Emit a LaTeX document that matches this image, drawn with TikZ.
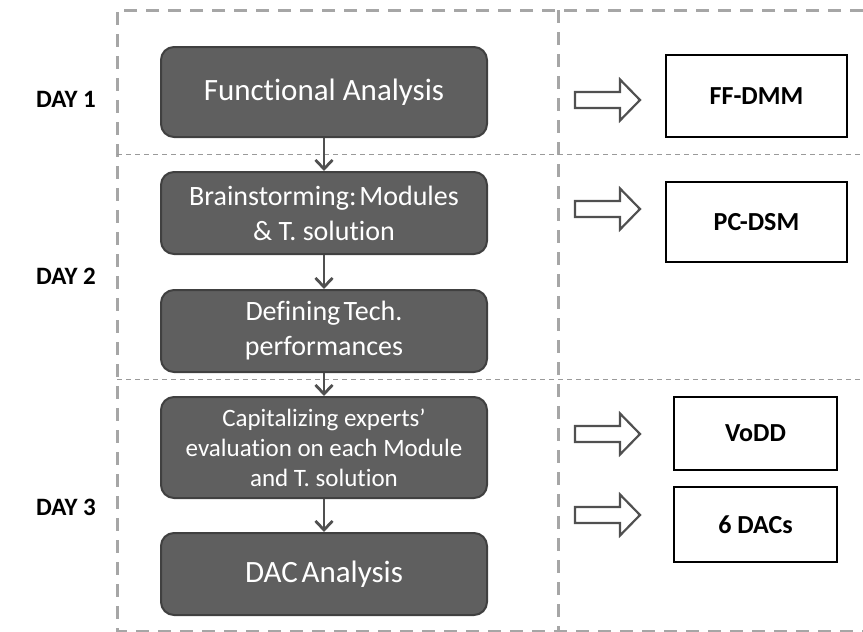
\documentclass[tikz,border=0pt]{standalone}
\usepackage{fontspec}
\setmainfont{Carlito}[RawFeature={-liga;-clig;-calt;-dlig}]
\usetikzlibrary{arrows.meta}
\definecolor{boxfill}{HTML}{5F5F5F}
\definecolor{boxedge}{HTML}{404040}
\definecolor{dashgray}{HTML}{A6A6A6}
\definecolor{thingray}{HTML}{9A9A9A}
\definecolor{arrowgray}{HTML}{505050}
\tikzset{
  x=1pt, y=-1pt,
  stepbox/.style={draw=boxedge, line width=2pt, fill=boxfill, rounded corners=13pt,
    text=white, align=center, minimum width=326pt, inner sep=2pt},
  outbox/.style={draw=black, line width=2.6pt, fill=white, align=center,
    font=\bfseries\fontsize{26}{30}\selectfont},
  daylabel/.style={font=\bfseries\fontsize{25}{30}\selectfont, text=black},
  flowarrow/.style={draw=arrowgray, line width=2.8pt,
    -{Straight Barb[length=9pt,width=17pt,line width=2.8pt]}},
  hollowline/.style={draw=arrowgray, line width=2.2pt, fill=white, line join=miter},
  bigdash/.style={draw=dashgray, line width=3pt, dash pattern=on 13pt off 9pt},
  smalldash/.style={draw=thingray, line width=1pt, dash pattern=on 5pt off 4pt},
  pics/hollowarrow/.style={code={
    \draw[hollowline] (0,-8) -- (45,-8) -- (45,-20.5) -- (65,0) -- (45,20.5)
      -- (45,8) -- (0,8) -- cycle;}},
}
\begin{document}
\begin{tikzpicture}
\useasboundingbox (0,0) rectangle (863,632);
\fill[white] (0,0) rectangle (863,632);

% frame
\draw[bigdash] (863,10) -- (117,10) -- (117,631) -- (863,631);
\draw[bigdash] (558,10) -- (558,631);
\draw[smalldash] (117,154) -- (863,154);
\draw[smalldash] (117,379) -- (863,379);

% day labels
\node[daylabel] (d1) at (66,99) {DAY 1};
\node[daylabel] (d2) at (66,276) {DAY 2};
\node[daylabel] (d3) at (66,507) {DAY 3};

% process steps
\node[stepbox, minimum height=90pt, font=\fontsize{31}{37}\selectfont] (b1) at (324,92) {Functional Analysis};
\node[stepbox, minimum height=82pt, font=\fontsize{28}{35}\selectfont] (b2) at (324,213) {Brainstorming:\hspace{0.1em}Modules\\\& T. solution};
\node[stepbox, minimum height=82pt, font=\fontsize{28}{35}\selectfont] (b3) at (324,331) {Defining\hspace{0.12em}Tech.\\performances};
\node[stepbox, minimum height=101pt, font=\fontsize{25}{30}\selectfont] (b4) at (324,447.5) {Capitalizing experts’\\evaluation on each Module\\and T. solution};
\node[stepbox, minimum height=82pt, font=\fontsize{31}{37}\selectfont] (b5) at (324,574) {DAC\hspace{0.12em}Analysis};

\draw[flowarrow] (b1) -- (b2);
\draw[flowarrow] (b2) -- (b3);
\draw[flowarrow] (b3) -- (b4);
\draw[flowarrow] (b4) -- (b5);

% outputs
\node[outbox, minimum width=181pt, minimum height=82pt] (o1) at (756.5,96) {FF-DMM};
\node[outbox, minimum width=181pt, minimum height=80pt] (o2) at (756.5,222) {PC-DSM};
\node[outbox, minimum width=163pt, minimum height=73pt] (o3) at (755.5,433.5) {VoDD};
\node[outbox, minimum width=163pt, minimum height=75pt] (o4) at (755.5,524.5) {6 DACs};

\coordinate (h1) at (575,100);
\coordinate (h2) at (575,209);
\coordinate (h3) at (575,434);
\coordinate (h4) at (575,515);
\pic at (h1) {hollowarrow};
\pic at (h2) {hollowarrow};
\pic at (h3) {hollowarrow};
\pic at (h4) {hollowarrow};
\end{tikzpicture}
\end{document}
